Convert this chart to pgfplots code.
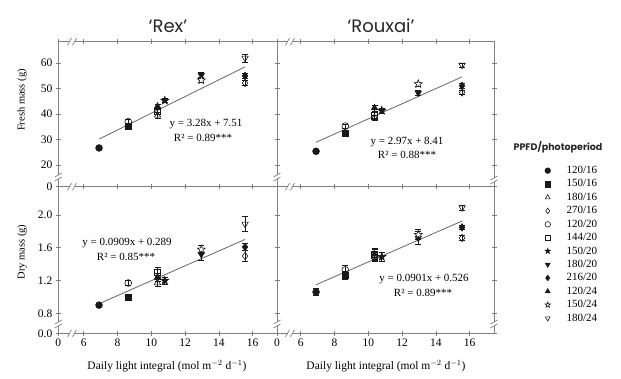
\documentclass[border=0pt]{standalone}
\usepackage{fontspec}
\setmainfont{Liberation Serif}
\newfontfamily\sansf{Poppins}
\usepackage{pgfplots}
\pgfplotsset{compat=1.18}
\definecolor{ax}{gray}{0.5}
\definecolor{mk}{gray}{0.1}
\definecolor{rl}{gray}{0.4}
\pgfdeclareplotmark{fstar}{%
  \pgfpathmoveto{\pgfpointpolar{90}{\pgfplotmarksize}}%
  \pgfpathlineto{\pgfpointpolar{126}{\pgfplotmarksize*0.42}}%
  \pgfpathlineto{\pgfpointpolar{162}{\pgfplotmarksize}}%
  \pgfpathlineto{\pgfpointpolar{198}{\pgfplotmarksize*0.42}}%
  \pgfpathlineto{\pgfpointpolar{234}{\pgfplotmarksize}}%
  \pgfpathlineto{\pgfpointpolar{270}{\pgfplotmarksize*0.42}}%
  \pgfpathlineto{\pgfpointpolar{306}{\pgfplotmarksize}}%
  \pgfpathlineto{\pgfpointpolar{342}{\pgfplotmarksize*0.42}}%
  \pgfpathlineto{\pgfpointpolar{18}{\pgfplotmarksize}}%
  \pgfpathlineto{\pgfpointpolar{54}{\pgfplotmarksize*0.42}}%
  \pgfpathclose
  \pgfusepathqfillstroke}
\pgfplotsset{
  pt/.style={only marks, color=mk, line width=0.6pt,
    /pgfplots/error bars/y dir=both, /pgfplots/error bars/y explicit,
    /pgfplots/error bars/error bar style={line width=0.6pt, color=mk},
    /pgfplots/error bars/error mark options={rotate=90, mark size=3pt, line width=0.6pt, color=mk}},
  s1/.style={pt, mark=*, mark size=3.4pt, mark options={fill=mk}},
  s2/.style={pt, mark=square*, mark size=3pt, mark options={fill=mk}},
  s3/.style={pt, mark=triangle, mark size=3.7pt, mark options={fill=white}},
  s4/.style={pt, mark=diamond, mark size=3.7pt, mark options={fill=white}},
  s5/.style={pt, mark=o, mark size=3.4pt, mark options={fill=white}},
  s6/.style={pt, mark=square, mark size=3pt, mark options={fill=white}},
  s7/.style={pt, mark=fstar, mark size=4.2pt, mark options={fill=mk}},
  s8/.style={pt, mark=triangle*, mark size=3.7pt, mark options={fill=mk, rotate=180}},
  s9/.style={pt, mark=diamond*, mark size=3.7pt, mark options={fill=mk}},
  s10/.style={pt, mark=triangle*, mark size=3.7pt, mark options={fill=mk}},
  s11/.style={pt, mark=fstar, mark size=4.2pt, mark options={fill=white}},
  s12/.style={pt, mark=triangle, mark size=3.7pt, mark options={fill=white, rotate=180}},
  reg/.style={rl, line width=0.8pt, no marks, forget plot},
  panel/.style={scale only axis, anchor=south west, clip=false,
    axis line style={ax, line width=0.7pt},
    every tick/.style={ax, line width=0.7pt},
    tick align=center, major tick length=5pt,
    xmin=0,
    tick label style={font=\fontsize{11.5}{13}\selectfont},
    /pgf/number format/assume math mode=true},
  leftx/.style={xmax=12.94, x filter/.expression={x-4.5}, xtick={0,1.5,3.5,5.5,7.5,9.5,11.5}},
  rightx/.style={xmax=12.84, x filter/.expression={x-4.6}, xtick={0,1.4,3.4,5.4,7.4,9.4,11.4}},
  topy/.style={ymin=0, ymax=56.9, ytick={0,8.5,18.5,28.5,38.5,48.5}, y filter/.expression={y-11.5}},
  boty/.style={ymin=0, ymax=1.79, ytick={0,0.244,0.644,1.044,1.444}, y filter/.expression={y-0.556}},
}
\newcommand{\xbrk}[2]{%
  \fill[white] (#1pt-2.5pt,#2pt-1.5pt) rectangle (#1pt+2.5pt,#2pt+1.5pt);
  \draw[ax, line width=0.7pt] (#1pt-4.5pt,#2pt-3.5pt) -- (#1pt-0.5pt,#2pt+3.5pt)
     (#1pt+0.5pt,#2pt-3.5pt) -- (#1pt+4.5pt,#2pt+3.5pt);}
\newcommand{\ybrk}[2]{%
  \fill[white] (#1pt-1.5pt,#2pt-2pt) rectangle (#1pt+1.5pt,#2pt+2pt);
  \draw[ax, line width=0.7pt] (#1pt-3.5pt,#2pt-4pt) -- (#1pt+3.5pt,#2pt)
     (#1pt-3.5pt,#2pt) -- (#1pt+3.5pt,#2pt+4pt);}
\begin{document}
\begin{tikzpicture}
\path[use as bounding box] (0,0) rectangle (621pt,379pt);
% ---------- Rex fresh ----------
\begin{axis}[panel, leftx, topy, at={(58.3pt,192.3pt)}, width=218.7pt, height=145pt,
  xticklabels={}, yticklabels={0,20,30,40,50,60}]
\addplot[reg] coordinates {(6.91,30.17) (15.55,58.51)};
\addplot[s1] coordinates {(6.91,26.7) +- (0,0.5)};
\addplot[s2] coordinates {(8.64,35.2) +- (0,0.8)};
\addplot[s3] coordinates {(10.37,39.5) +- (0,1.0)};
\addplot[s4] coordinates {(15.55,52.2) +- (0,1.0)};
\addplot[s5] coordinates {(8.64,37.0) +- (0,0.8)};
\addplot[s6] coordinates {(10.37,41.0) +- (0,1.0)};
\addplot[s7] coordinates {(10.80,45.3) +- (0,0.8)};
\addplot[s8] coordinates {(12.96,55.3) +- (0,1.2)};
\addplot[s9] coordinates {(15.55,55.0) +- (0,1.0)};
\addplot[s10] coordinates {(10.37,43.0) +- (0,1.0)};
\addplot[s11] coordinates {(12.96,53.3) +- (0,1.0)};
\addplot[s12] coordinates {(15.55,62.0) +- (0,1.5)};
\end{axis}
% ---------- Rouxai fresh ----------
\begin{axis}[panel, rightx, topy, at={(277pt,192.3pt)}, width=217pt, height=145pt,
  xticklabels={}, yticklabels={},
  legend style={draw=none, fill=none, at={(1.22,0.17)}, anchor=north west,
    font=\fontsize{11}{12}\selectfont, row sep=0.6pt,
    /tikz/every odd column/.append style={column sep=14pt}},
  legend cell align=left, legend image post style={mark size=2.8pt}]
\addplot[reg] coordinates {(6.91,28.93) (15.55,54.59)};
\addplot[s1] coordinates {(6.91,25.4) +- (0,0.6)};
\addplot[s2] coordinates {(8.64,32.6) +- (0,0.8)};
\addplot[s3] coordinates {(10.37,38.6) +- (0,1.0)};
\addplot[s4] coordinates {(15.55,48.5) +- (0,0.8)};
\addplot[s5] coordinates {(8.64,35.3) +- (0,0.8)};
\addplot[s6] coordinates {(10.37,39.5) +- (0,1.0)};
\addplot[s7] coordinates {(10.80,41.4) +- (0,1.0)};
\addplot[s8] coordinates {(12.96,48.3) +- (0,1.0)};
\addplot[s9] coordinates {(15.55,51.1) +- (0,1.0)};
\addplot[s10] coordinates {(10.37,42.4) +- (0,1.2)};
\addplot[s11] coordinates {(12.96,51.8) +- (0,0.8)};
\addplot[s12] coordinates {(15.55,59.2) +- (0,0.8)};
\legend{120/16,150/16,180/16,270/16,120/20,144/20,150/20,180/20,216/20,120/24,150/24,180/24}
\end{axis}
% ---------- Rex dry ----------
\begin{axis}[panel, leftx, boty, at={(58.3pt,45.7pt)}, width=218.7pt, height=146.6pt,
  xticklabels={0,6,8,10,12,14,16}, yticklabels={0.0,0.8,1.2,1.6,2.0}]
\addplot[reg] coordinates {(6.91,0.917) (15.55,1.7025)};
\addplot[s1] coordinates {(6.91,0.90) +- (0,0.02)};
\addplot[s2] coordinates {(8.64,1.00) +- (0,0.03)};
\addplot[s3] coordinates {(10.37,1.17) +- (0,0.04)};
\addplot[s4] coordinates {(15.55,1.50) +- (0,0.07)};
\addplot[s5] coordinates {(8.64,1.17) +- (0,0.03)};
\addplot[s6] coordinates {(10.37,1.30) +- (0,0.06)};
\addplot[s7] coordinates {(10.80,1.20) +- (0,0.04)};
\addplot[s8] coordinates {(12.96,1.52) +- (0,0.07)};
\addplot[s9] coordinates {(15.55,1.61) +- (0,0.04)};
\addplot[s10] coordinates {(10.37,1.24) +- (0,0.05)};
\addplot[s11] coordinates {(12.96,1.58) +- (0,0.05)};
\addplot[s12] coordinates {(15.55,1.89) +- (0,0.09)};
\end{axis}
% ---------- Rouxai dry ----------
\begin{axis}[panel, rightx, boty, at={(277pt,45.7pt)}, width=217pt, height=146.6pt,
  xticklabels={0,6,8,10,12,14,16}, yticklabels={}]
\addplot[reg] coordinates {(6.91,1.1486) (15.55,1.927)};
\addplot[s1] coordinates {(6.91,1.06) +- (0,0.04)};
\addplot[s2] coordinates {(8.64,1.26) +- (0,0.05)};
\addplot[s3] coordinates {(10.37,1.49) +- (0,0.06)};
\addplot[s4] coordinates {(15.55,1.72) +- (0,0.03)};
\addplot[s5] coordinates {(8.64,1.33) +- (0,0.06)};
\addplot[s6] coordinates {(10.37,1.52) +- (0,0.07)};
\addplot[s7] coordinates {(10.80,1.49) +- (0,0.06)};
\addplot[s8] coordinates {(12.96,1.72) +- (0,0.08)};
\addplot[s9] coordinates {(15.55,1.85) +- (0,0.03)};
\addplot[s10] coordinates {(10.37,1.52) +- (0,0.06)};
\addplot[s11] coordinates {(12.96,1.76) +- (0,0.06)};
\addplot[s12] coordinates {(15.55,2.09) +- (0,0.03)};
\end{axis}
% ---------- axis breaks ----------
\xbrk{72}{337.3}\xbrk{72}{192.3}\xbrk{72}{45.7}
\xbrk{290}{337.3}\xbrk{290}{192.3}\xbrk{290}{45.7}
\ybrk{58.3}{202}\ybrk{277}{202}\ybrk{494}{199}
\ybrk{58.3}{55}\ybrk{277}{55}\ybrk{494}{55}
% ---------- texts ----------
\begin{scope}[font=\fontsize{11}{13}\selectfont]
\node at (206pt,255pt) {y = 3.28x + 7.51};
\node at (203pt,241pt) {R² = 0.89***};
\node at (407pt,237pt) {y = 2.97x + 8.41};
\node at (407pt,224pt) {R² = 0.88***};
\node at (127pt,136pt) {y = 0.0909x + 0.289};
\node at (126pt,122pt) {R² = 0.85***};
\node at (424pt,100pt) {y = 0.0901x + 0.526};
\node at (423pt,86pt) {R² = 0.89***};
\end{scope}
\node[font=\fontsize{11.5}{13}\selectfont] at (167pt,13pt) {Daily light integral (mol m$^{-2}$ d$^{-1}$)};
\node[font=\fontsize{11.5}{13}\selectfont] at (386pt,13pt) {Daily light integral (mol m$^{-2}$ d$^{-1}$)};
\node[rotate=90, font=\fontsize{10.5}{12}\selectfont] at (22pt,279pt) {Fresh mass (g)};
\node[rotate=90, font=\fontsize{10.5}{12}\selectfont] at (22pt,127pt) {Dry mass (g)};
\node[font=\sansf\fontsize{18}{20}\selectfont, text=black!85] at (168pt,353pt) {‘Rex’};
\node[font=\sansf\fontsize{18}{20}\selectfont, text=black!85] at (381pt,353pt) {‘Rouxai’};
\node[font=\sansf\bfseries\fontsize{9.5}{12}\selectfont, text=black!85] at (558pt,232pt) {PPFD/photoperiod};
\end{tikzpicture}
\end{document}
